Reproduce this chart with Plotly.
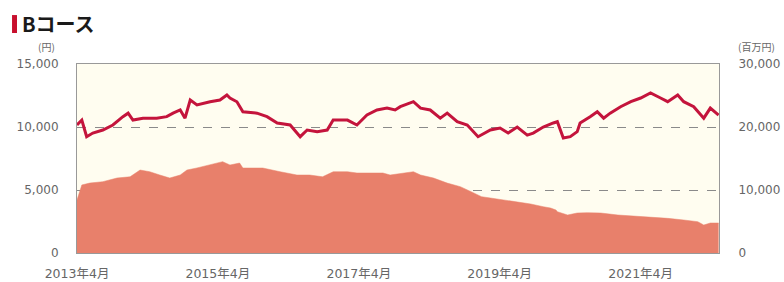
import plotly.graph_objects as go

# 基準価額 (円) - left axis
nav_dates = ["2013-04-01","2013-04-26","2013-05-21","2013-06-22","2013-08-13","2013-10-04","2013-11-25","2013-12-22",
             "2014-01-16","2014-03-09","2014-05-19","2014-07-10","2014-08-12","2014-09-18","2014-10-13","2014-11-09",
             "2014-12-14","2015-02-20","2015-04-12","2015-05-18","2015-06-03","2015-07-09","2015-08-09","2015-10-21",
             "2015-12-12","2016-02-03","2016-04-10","2016-06-01","2016-07-07","2016-08-28","2016-10-19","2016-11-19",
             "2017-02-01","2017-03-22","2017-05-13","2017-07-04","2017-08-25","2017-10-06","2017-11-02","2018-01-09",
             "2018-02-15","2018-04-06","2018-05-28","2018-07-03","2018-08-24","2018-10-15","2018-12-10","2019-02-12",
             "2019-04-03","2019-05-15","2019-07-01","2019-08-22","2019-09-22","2019-11-13","2020-01-04","2020-01-25",
             "2020-02-25","2020-04-01","2020-05-07","2020-05-22","2020-07-13","2020-08-19","2020-09-21","2020-10-25",
             "2020-12-18","2021-02-09","2021-04-01","2021-05-22","2021-07-13","2021-08-19","2021-10-10","2021-11-10",
             "2022-01-01","2022-02-22","2022-03-28","2022-05-10"]
nav_values = [10160,10550,9230,9520,9760,10160,10820,11100,
              10550,10700,10700,10820,11100,11350,10700,12140,
              11750,12010,12140,12540,12300,12000,11210,11100,
              10820,10320,10160,9230,9760,9630,9760,10550,
              10550,10160,10950,11350,11500,11350,11610,12010,
              11500,11350,10700,11100,10420,10160,9230,9760,
              9920,9520,10000,9360,9520,10000,10320,10420,
              9130,9230,9630,10320,10820,11210,10700,11100,
              11610,12010,12300,12700,12300,12010,12540,12010,
              11610,10700,11500,10950]

# 純資産総額 (百万円) - right axis
aum_dates = ["2013-04-01","2013-04-26","2013-06-06","2013-08-13","2013-10-25","2014-01-01","2014-02-22","2014-04-13",
             "2014-06-04","2014-07-26","2014-09-18","2014-10-23","2014-12-14","2015-02-20","2015-04-26","2015-06-03",
             "2015-07-23","2015-08-09","2015-11-20","2016-02-18","2016-05-15","2016-07-20","2016-09-25","2016-11-19",
             "2017-02-01","2017-03-22","2017-05-29","2017-08-04","2017-09-10","2017-11-16","2018-01-09","2018-02-15",
             "2018-04-23","2018-07-03","2018-09-09","2018-11-04","2018-12-28","2019-02-12","2019-04-21","2019-07-01",
             "2019-09-09","2019-11-13","2019-12-21","2020-01-18","2020-01-25","2020-03-18","2020-05-07","2020-06-28",
             "2020-09-06","2020-12-04","2021-03-01","2021-05-22","2021-08-19","2021-11-10","2022-01-22","2022-02-22",
             "2022-03-28","2022-05-10"]
aum_values = [8400,10800,11100,11320,11900,12100,13170,12900,
              12380,11900,12380,13170,13500,13970,14500,13970,
              14280,13490,13490,12900,12380,12380,12100,12900,
              12900,12700,12700,12700,12380,12700,12900,12380,
              11900,11100,10530,9730,8940,8730,8410,8150,
              7780,7350,7140,6830,6560,6030,6350,6400,
              6350,6030,5870,5770,5500,5240,4970,4440,
              4760,4760]

x_tickvals = ["2013-04-01","2015-04-01","2017-04-01","2019-04-01","2021-04-01"]
x_ticktext = ["2013年4月","2015年4月","2017年4月","2019年4月","2021年4月"]
left_tickvals = [0,5000,10000,15000]
left_ticktext = ["0","5,000","10,000","15,000"]
right_tickvals = [0,10000,20000,30000]
right_ticktext = ["0","10,000","20,000","30,000"]

FONT = "DejaVu Sans, Noto Sans CJK JP"
JFONT = "Noto Sans CJK JP"
TICKC = "#666666"

fig = go.Figure()
fig.add_trace(go.Scatter(x=aum_dates, y=aum_values, mode="lines", fill="tozeroy",
                         line=dict(color="#e8806b", width=0.5), fillcolor="#e8806b",
                         yaxis="y", showlegend=False, hoverinfo="skip"))
fig.add_trace(go.Scatter(x=nav_dates, y=nav_values, mode="lines",
                         line=dict(color="#c4143c", width=3),
                         yaxis="y2", showlegend=False))

fig.update_layout(
    width=784, height=282,
    margin=dict(l=77, r=65, t=64, b=29, autoexpand=False),
    paper_bgcolor="white", plot_bgcolor="#fffdf0",
    font=dict(family=FONT, size=11, color=TICKC),
    xaxis=dict(type="date", range=["2013-04-01","2022-05-12"], automargin=False,
               tickvals=x_tickvals, ticktext=x_ticktext,
               ticks="outside", ticklen=9, tickcolor="rgba(0,0,0,0)",
               showgrid=False, showline=True, linecolor="#999999", linewidth=1, mirror=True,
               tickfont=dict(family=FONT, size=12.5, color=TICKC), zeroline=False),
    yaxis=dict(side="right", range=[0,30000], tickvals=right_tickvals, ticktext=right_ticktext,
               automargin=False,
               ticks="outside", ticklen=16, tickcolor="rgba(0,0,0,0)",
               showgrid=True, gridcolor="#8a8a8a", griddash="dash", gridwidth=1,
               showline=True, linecolor="#999999", linewidth=1, mirror=True, zeroline=False,
               tickfont=dict(family=FONT, size=12, color=TICKC)),
    yaxis2=dict(side="left", overlaying="y", range=[0,15000], tickvals=left_tickvals, ticktext=left_ticktext,
                automargin=False,
                ticks="outside", ticklen=15, tickcolor="rgba(0,0,0,0)",
                showgrid=False, zeroline=False, showline=False,
                tickfont=dict(family=FONT, size=12, color=TICKC)),
)

fig.add_shape(type="rect", xref="paper", yref="paper",
              x0=-0.1012, x1=-0.0935, y0=1.164, y1=1.259,
              fillcolor="#c8102e", line=dict(width=0))
fig.add_annotation(xref="paper", yref="paper", x=-0.0895, y=1.212, xanchor="left", yanchor="middle",
                   text="<b>Bコース</b>", showarrow=False,
                   font=dict(family=JFONT, size=20, color="#1a1a1a"))
fig.add_annotation(xref="paper", yref="paper", x=-0.047, y=1.09, xanchor="center", yanchor="middle",
                   text="(円)", showarrow=False, font=dict(family=JFONT, size=10, color=TICKC))
fig.add_annotation(xref="paper", yref="paper", x=1.059, y=1.09, xanchor="center", yanchor="middle",
                   text="(百万円)", showarrow=False, font=dict(family=JFONT, size=10, color=TICKC))

fig.write_html("out.html", config={"displayModeBar": False},
               post_script="document.body.style.margin='0';document.body.style.padding='0';")
